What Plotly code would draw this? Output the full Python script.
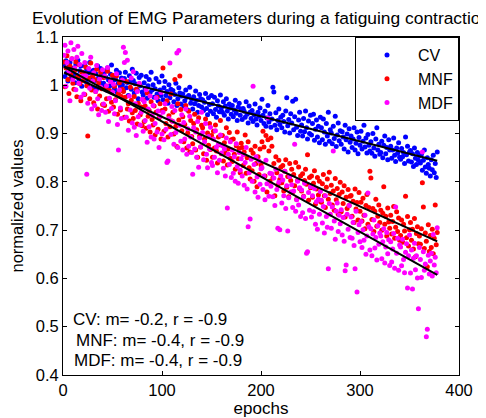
import numpy as np
import plotly.graph_objects as go

# normalized EMG parameters, one value per epoch
cv = [
    1.042, 1.018, 1.051, 1.026, 1.009, 1.038, 1.047, 1.015, 1.032, 1.024,
    1.036, 1.005, 1.044, 1.021, 1.052, 1.013, 1.030, 1.040, 0.998, 1.027,
    1.019, 1.041, 1.008, 1.033, 1.002, 1.026, 1.047, 1.015, 1.029, 0.995,
    1.031, 1.010, 1.024, 0.993, 1.040, 1.016, 1.006, 1.035, 1.021, 0.999,
    1.004, 1.028, 1.017, 0.990, 1.036, 1.011, 0.998, 1.023, 1.042, 1.007,
    1.019, 0.993, 1.012, 1.031, 0.985, 1.004, 1.026, 0.997, 1.015, 1.001,
    0.988, 1.014, 1.027, 0.995, 1.006, 0.979, 1.020, 1.009, 0.992, 1.033,
    1.010, 0.984, 1.003, 1.025, 0.991, 0.972, 1.016, 0.999, 1.021, 0.986,
    0.980, 1.005, 0.994, 1.018, 0.973, 0.999, 1.012, 0.985, 1.027, 0.990,
    1.001, 0.975, 0.993, 1.014, 0.982, 0.968, 1.007, 0.990, 0.979, 1.019,
    0.970, 0.995, 1.008, 0.979, 0.987, 0.963, 1.001, 0.974, 0.992, 0.985,
    0.989, 0.966, 0.981, 1.004, 0.958, 0.972, 0.995, 0.984, 0.961, 0.978,
    0.982, 0.957, 0.968, 0.990, 0.975, 0.949, 0.979, 0.996, 0.963, 0.971,
    0.951, 0.976, 0.962, 0.988, 0.969, 0.944, 0.958, 0.981, 0.972, 0.955,
    0.970, 0.948, 0.965, 0.983, 0.952, 0.939, 0.974, 0.960, 0.946, 0.979,
    0.962, 0.941, 0.975, 0.950, 0.934, 0.968, 0.957, 0.945, 0.980, 0.953,
    0.944, 0.966, 0.938, 0.957, 0.972, 0.947, 0.930, 0.961, 0.953, 0.940,
    0.958, 0.935, 0.949, 0.969, 0.942, 0.927, 0.955, 0.963, 0.938, 0.951,
    0.929, 0.952, 0.946, 0.934, 0.966, 0.940, 0.922, 0.957, 0.944, 0.931,
    0.948, 0.925, 0.939, 0.961, 0.930, 0.918, 0.944, 0.936, 0.953, 0.927,
    0.971, 0.938, 0.921, 0.946, 0.915, 0.932, 0.958, 0.924, 0.941, 0.913,
    0.930, 0.996, 0.986, 0.917, 0.943, 0.908, 0.927, 0.951, 0.919, 0.934,
    0.912, 0.938, 0.925, 0.903, 0.947, 0.974, 0.916, 0.929, 0.901, 0.941,
    0.922, 0.967, 0.908, 0.935, 0.971, 0.913, 0.896, 0.928, 0.944, 0.905,
    0.918, 0.895, 0.931, 0.904, 0.947, 0.912, 0.889, 0.926, 0.900, 0.938,
    0.897, 0.921, 0.940, 0.886, 0.909, 0.928, 0.893, 0.915, 0.881, 0.934,
    0.912, 0.887, 0.930, 0.903, 0.878, 0.921, 0.895, 0.944, 0.884, 0.908,
    0.901, 0.879, 0.915, 0.890, 0.936, 0.873, 0.897, 0.922, 0.885, 0.906,
    0.878, 0.904, 0.893, 0.868, 0.917, 0.887, 0.899, 0.862, 0.910, 0.882,
    0.895, 0.871, 0.889, 0.912, 0.866, 0.880, 0.903, 0.858, 0.892, 0.876,
    0.905, 0.868, 0.884, 0.917, 0.872, 0.891, 0.860, 0.898, 0.876, 0.864,
    0.883, 0.859, 0.900, 0.870, 0.853, 0.889, 0.912, 0.866, 0.878, 0.857,
    0.861, 0.884, 0.850, 0.876, 0.895, 0.858, 0.871, 0.846, 0.887, 0.866,
    0.874, 0.849, 0.866, 0.891, 0.855, 0.842, 0.870, 0.859, 0.881, 0.851,
    0.847, 0.869, 0.852, 0.861, 0.838, 0.893, 0.856, 0.874, 0.843, 0.862,
    0.865, 0.841, 0.858, 0.832, 0.870, 0.849, 0.836, 0.861, 0.845, 0.854,
    0.839, 0.857, 0.824, 0.845, 0.866, 0.831, 0.818, 0.850, 0.836, 0.828,
    0.812, 0.846, 0.825, 0.855, 0.819, 0.838, 0.809, 0.862,
]

mnf = [
    1.048, 0.997, 1.036, 1.061, 1.012, 0.983, 1.040, 1.022, 1.055, 1.004,
    0.992, 1.031, 1.049, 0.976, 1.018, 1.043, 1.003, 0.968, 1.027, 1.010,
    1.024, 0.981, 1.038, 0.999, 0.895, 1.015, 0.972, 1.046, 0.990, 1.020,
    0.964, 1.012, 0.987, 1.033, 0.951, 1.005, 0.978, 1.027, 0.993, 0.960,
    1.016, 0.958, 0.994, 0.972, 1.029, 0.946, 0.989, 1.008, 0.965, 1.021,
    0.955, 0.998, 0.970, 1.019, 0.940, 0.983, 1.005, 0.949, 0.977, 0.992,
    0.987, 0.934, 0.975, 1.008, 0.951, 0.962, 0.926, 0.996, 0.969, 0.943,
    0.931, 0.977, 0.948, 0.992, 0.920, 0.963, 1.001, 0.939, 0.955, 0.916,
    0.970, 0.925, 0.957, 0.911, 0.984, 0.936, 0.948, 0.903, 0.966, 0.929,
    0.918, 0.957, 0.897, 0.944, 0.975, 0.909, 0.932, 0.962, 0.889, 0.948,
    1.036, 0.905, 0.951, 0.921, 0.968, 0.893, 0.937, 0.914, 0.982, 0.926,
    0.944, 0.899, 1.012, 0.915, 0.873, 0.962, 0.928, 1.019, 0.950, 0.906,
    0.935, 0.883, 0.919, 0.958, 0.870, 0.901, 0.946, 0.862, 0.927, 0.894,
    0.879, 0.921, 0.940, 0.866, 0.908, 0.851, 0.933, 0.895, 0.872, 0.917,
    0.912, 0.858, 0.889, 0.930, 0.845, 0.901, 0.876, 0.921, 0.867, 0.896,
    0.851, 0.905, 0.870, 0.918, 0.864, 0.839, 0.893, 0.877, 0.927, 0.858,
    0.896, 0.843, 0.881, 0.860, 0.912, 0.835, 0.868, 0.902, 0.849, 0.887,
    0.842, 0.889, 0.857, 0.826, 0.875, 0.903, 0.848, 0.869, 0.819, 0.880,
    0.871, 0.834, 0.862, 0.897, 0.818, 0.850, 0.883, 0.829, 0.806, 0.866,
    0.823, 0.859, 0.801, 0.874, 0.838, 0.790, 0.852, 0.815, 0.868, 0.835,
    0.883, 0.905, 0.872, 0.812, 0.896, 0.779, 0.887, 0.864, 0.801, 0.891,
    0.874, 0.808, 0.838, 0.771, 0.852, 0.819, 0.793, 0.845, 0.805, 0.830,
    0.798, 0.834, 0.781, 0.822, 0.846, 0.789, 0.811, 0.769, 0.838, 0.803,
    0.826, 0.779, 0.815, 0.792, 0.840, 0.764, 0.803, 0.831, 0.786, 0.812,
    0.781, 0.817, 0.770, 0.803, 0.826, 0.795, 0.856, 0.762, 0.809, 0.788,
    0.812, 0.768, 0.797, 0.823, 0.754, 0.785, 0.809, 0.773, 0.801, 0.760,
    0.758, 0.796, 0.815, 0.771, 0.747, 0.789, 0.806, 0.764, 0.820, 0.776,
    0.793, 0.752, 0.781, 0.741, 0.807, 0.763, 0.786, 0.733, 0.774, 0.799,
    0.738, 0.779, 0.755, 0.792, 0.727, 0.768, 0.745, 0.784, 0.751, 0.770,
    0.772, 0.729, 0.760, 0.716, 0.785, 0.744, 0.757, 0.721, 0.778, 0.739,
    0.758, 0.719, 0.766, 0.731, 0.703, 0.751, 0.774, 0.712, 0.747, 0.822,
    0.808, 0.722, 0.745, 0.697, 0.739, 0.764, 0.708, 0.729, 0.752, 0.716,
    0.741, 0.700, 0.735, 0.790, 0.712, 0.729, 0.688, 0.746, 0.717, 0.704,
    0.731, 0.692, 0.718, 0.749, 0.683, 0.706, 0.738, 0.697, 0.725, 0.679,
    0.689, 0.721, 0.675, 0.712, 0.698, 0.770, 0.684, 0.728, 0.667, 0.701,
    0.716, 0.679, 0.702, 0.661, 0.724, 0.645, 0.693, 0.707, 0.672, 0.688,
    0.671, 0.703, 0.798, 0.748, 0.662, 0.694, 0.677, 0.624, 0.711, 0.656,
    0.689, 0.664, 0.702, 0.651, 0.683, 0.752, 0.670, 0.695,
]

mdf = [
    1.062, 1.083, 0.998, 1.047, 1.071, 1.029, 0.968, 1.088, 1.055, 1.012,
    1.074, 1.036, 0.991, 1.058, 1.081, 1.004, 1.043, 0.975, 1.066, 1.019,
    0.982, 1.047, 1.020, 0.816, 0.963, 1.035, 0.994, 1.058, 0.951, 1.009,
    1.026, 0.958, 0.987, 1.041, 0.972, 0.939, 1.013, 0.996, 0.948, 1.032,
    0.961, 1.019, 0.944, 0.999, 1.037, 0.925, 0.973, 1.008, 0.952, 0.986,
    1.002, 0.941, 0.968, 1.024, 0.919, 0.866, 0.990, 0.953, 0.931, 1.011,
    1.079, 1.047, 1.068, 0.934, 1.052, 0.907, 0.978, 0.949, 1.015, 0.922,
    1.028, 0.913, 0.962, 0.896, 0.987, 0.935, 1.004, 0.918, 0.944, 0.971,
    0.905, 0.966, 0.927, 0.991, 0.882, 0.951, 0.914, 0.978, 0.893, 0.938,
    0.958, 0.889, 0.921, 0.974, 0.903, 0.947, 0.871, 0.936, 0.985, 0.899,
    0.944, 0.887, 0.962, 0.909, 0.840, 0.843, 0.931, 1.046, 0.898, 0.956,
    0.925, 0.878, 0.948, 0.902, 1.067, 0.871, 1.072, 0.917, 0.884, 0.939,
    0.866, 0.923, 0.889, 0.951, 0.857, 0.910, 0.874, 0.936, 0.893, 0.861,
    0.816, 0.912, 0.868, 0.903, 0.851, 0.925, 0.830, 0.891, 0.872, 0.944,
    0.902, 0.846, 0.883, 0.921, 0.857, 0.829, 0.894, 0.868, 0.913, 0.840,
    0.834, 0.889, 0.851, 0.906, 0.872, 0.819, 0.878, 0.845, 0.897, 0.860,
    0.875, 0.828, 0.868, 0.812, 0.891, 0.746, 0.857, 0.836, 0.883, 0.809,
    0.866, 0.818, 0.852, 0.801, 0.879, 0.832, 0.797, 0.861, 0.824, 0.848,
    0.812, 0.856, 0.793, 0.840, 0.871, 0.785, 0.707, 0.819, 0.723, 0.847,
    0.801, 0.998, 0.836, 0.779, 0.852, 0.810, 0.768, 0.843, 0.795, 0.827,
    0.829, 0.784, 0.812, 0.763, 0.845, 0.796, 0.932, 0.770, 0.818, 0.791,
    0.817, 0.769, 0.808, 0.751, 0.826, 0.784, 0.704, 0.799, 0.701, 0.812,
    0.756, 0.804, 0.771, 0.822, 0.745, 0.792, 0.698, 0.767, 0.811, 0.779,
    0.794, 0.747, 0.781, 0.878, 0.739, 0.763, 0.801, 0.752, 0.788, 0.728,
    0.783, 0.736, 0.769, 0.797, 0.724, 0.652, 0.655, 0.778, 0.741, 0.790,
    0.727, 0.771, 0.738, 0.786, 0.712, 0.759, 0.702, 0.764, 0.733, 0.780,
    0.762, 0.715, 0.749, 0.694, 0.771, 0.728, 0.706, 0.620, 0.755, 0.733,
    0.704, 0.748, 0.864, 0.719, 0.681, 0.739, 0.756, 0.697, 0.731, 0.713,
    0.742, 0.690, 0.726, 0.677, 0.616, 0.628, 0.733, 0.702, 0.751, 0.685,
    0.727, 0.683, 0.716, 0.668, 0.620, 0.739, 0.572, 0.695, 0.711, 0.676,
    0.718, 0.664, 0.701, 0.679, 0.731, 0.650, 0.688, 0.777, 0.707, 0.659,
    0.703, 0.647, 0.692, 0.721, 0.663, 0.685, 0.638, 0.709, 0.671, 0.694,
    0.688, 0.641, 0.676, 0.703, 0.632, 0.665, 0.695, 0.651, 0.680, 0.627,
    0.676, 0.634, 0.661, 0.693, 0.621, 0.748, 0.652, 0.683, 0.617, 0.669,
    0.665, 0.626, 0.681, 0.639, 0.612, 0.654, 0.672, 0.580, 0.647, 0.690,
    0.611, 0.659, 0.578, 0.642, 0.673, 0.618, 0.647, 0.601, 0.537, 0.664,
    0.639, 0.602, 0.862, 0.655, 0.617, 0.630, 0.479, 0.495, 0.648, 0.609,
    0.636, 0.652, 0.605, 0.691, 0.628, 0.644, 0.612, 0.705,
]

series_names = ["CV", "MNF", "MDF"]
series_colors = ["#0000ff", "#ff0000", "#ff00ff"]
stats_text = ["CV: m= -0.2, r = -0.9", "MNF: m= -0.4, r = -0.9", "MDF: m= -0.4, r = -0.9"]

y_ticks = [0.4, 0.5, 0.6, 0.7, 0.8, 0.9, 1.0, 1.1]
y_ticktext = ["0.4", "0.5", "0.6", "0.7", "0.8", "0.9", "1", "1.1"]
x_ticks = [0, 100, 200, 300, 400]

font_family = "Liberation Sans, Arial, sans-serif"

fig = go.Figure()

for name, vals, col in zip(series_names, [cv, mnf, mdf], series_colors):
    ep = np.arange(1, len(vals) + 1)
    fig.add_trace(go.Scatter(x=ep, y=vals, mode="markers", name=name,
                             marker=dict(color=col, size=5, line=dict(width=0))))

# least squares lines
for vals in [cv, mnf, mdf]:
    ep = np.arange(1, len(vals) + 1)
    p = np.polyfit(ep, vals, 1)
    xe = np.array([ep[0], ep[-1]])
    fig.add_trace(go.Scatter(x=xe, y=np.polyval(p, xe), mode="lines", showlegend=False,
                             line=dict(color="black", width=2)))

ann_y = [0.163, 0.103, 0.044]
ann_x = [0.02, 0.028, 0.023]
for t, xx, yy in zip(stats_text, ann_x, ann_y):
    fig.add_annotation(text=t, xref="paper", yref="paper", x=xx, y=yy, xanchor="left",
                       yanchor="middle", showarrow=False, font=dict(size=17, color="black"))

axis_common = dict(showline=True, linecolor="black", linewidth=1, mirror="ticks",
                   ticks="inside", ticklen=4, tickcolor="black", showgrid=False,
                   zeroline=False, automargin=False, tickfont=dict(size=16.5, color="black"))

# page body adds 8px on the left/top, so the figure is 8px smaller than the window
fig.update_layout(
    width=478, height=410,
    margin=dict(l=55, r=27, t=29, b=43),
    paper_bgcolor="white", plot_bgcolor="white",
    font=dict(family=font_family, color="black"),
    title=dict(text="Evolution of EMG Parameters during a fatiguing contraction",
               x=0.05, xref="container", xanchor="left", y=0.976, yanchor="middle",
               font=dict(size=17.4, color="black")),
    xaxis=dict(range=[0, 400], tickvals=x_ticks,
               title=dict(text="epochs", font=dict(size=17), standoff=0), **axis_common),
    yaxis=dict(range=[0.4, 1.1], tickvals=y_ticks, ticktext=y_ticktext,
               title=dict(text="normalized values", font=dict(size=16.5), standoff=12), **axis_common),
    legend=dict(x=1, y=1, xanchor="right", yanchor="top", bordercolor="black",
                borderwidth=1, bgcolor="white", font=dict(size=16),
                itemwidth=52, tracegroupgap=0),
    showlegend=True,
)

fig.write_html("out.html")
